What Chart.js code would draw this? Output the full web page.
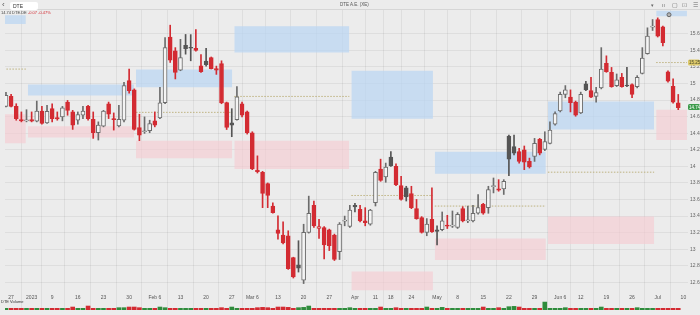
<!DOCTYPE html>
<html><head><meta charset="utf-8">
<script src="https://cdn.jsdelivr.net/npm/chart.js@4.4.1/dist/chart.umd.min.js"></script>
<style>
html,body{margin:0;padding:0;background:#ececec;overflow:hidden;}
#wrap{position:relative;width:700px;height:315px;font-family:"Liberation Sans",Arial,sans-serif;}
canvas{position:absolute;left:0;top:0;}
.t{position:absolute;white-space:nowrap;line-height:1;}
</style></head>
<body><div id="wrap">
<canvas id="c" width="700" height="315"></canvas>
<div class="t" style="left:2px;top:1px;font-size:8px;color:#555;">‹</div>
<div class="t" style="left:10px;top:2px;width:28px;height:8px;background:#fff;border-radius:2px;font-size:5px;color:#333;padding:1.5px 0 0 3px;box-sizing:border-box;">DTE</div>
<div class="t" style="left:1px;top:11px;font-size:4px;color:#444;">14.74 DTE.DE <span style="color:#d32b32">-0.07 -0.47%</span></div>
<div class="t" style="left:340px;top:3px;font-size:4.5px;color:#555;">DTE A.E. (XE)</div>
<div class="t" style="left:651px;top:3px;font-size:5px;color:#666;">▾</div>
<div class="t" style="left:662px;top:3px;font-size:5px;color:#666;">ıı</div>
<div class="t" style="left:672px;top:2px;font-size:6px;color:#666;">▢</div>
<div class="t" style="left:682px;top:2px;font-size:6px;color:#888;">⊡</div>
<div class="t" style="left:693px;top:2px;font-size:6px;color:#666;">☰</div>
<div class="t" style="left:1px;top:300px;font-size:4px;color:#333;">DTE Volume</div>
</div>
<script>
const opens=[14.724,14.844,14.724,14.565,14.55,14.565,14.545,14.668,14.525,14.696,14.589,14.597,14.776,14.657,14.557,14.617,14.724,14.569,14.406,14.485,14.756,14.577,14.489,14.557,15.035,14.923,14.469,14.418,14.43,14.549,14.585,14.768,15.561,15.393,
15.162,15.46,15.43,15.425,15.214,15.27,15.314,15.18,15.24,14.77,14.525,14.565,14.756,14.657,14.406,13.955,13.928,13.792,13.522,13.235,13.171,13.163,12.90,12.813,12.626,13.203,13.53,13.25,13.263,13.235,13.171,12.972,13.34,13.275,
13.53,13.482,13.343,13.303,13.562,13.968,13.872,14.111,14.0,13.768,13.74,13.673,13.49,13.382,13.203,13.362,13.235,13.235,13.29,13.28,13.263,13.49,13.343,13.343,13.434,13.541,13.502,13.755,13.73,13.729,14.366,14.238,14.179,
14.2,14.06,14.119,14.326,14.206,14.278,14.509,14.668,14.868,14.836,14.776,14.645,14.995,14.915,14.844,14.947,15.242,15.134,14.975,15.075,14.975,14.987,14.963,15.122,15.361,15.68,15.772,15.684,15.142,14.967,14.768];
const highs=[14.895,14.868,14.756,14.657,14.684,14.657,14.788,14.724,14.736,14.756,14.657,14.724,14.796,14.676,14.657,14.724,14.736,14.657,14.537,14.676,14.776,14.645,14.736,15.015,15.174,14.935,14.629,14.597,14.557,14.657,14.955,15.553,15.704,15.433,
15.533,15.592,15.59,15.65,15.35,15.425,15.32,15.21,15.274,14.776,14.696,14.963,14.776,14.668,14.418,14.127,13.94,13.80,13.56,13.402,13.33,13.223,12.904,13.103,13.302,13.641,13.581,13.362,13.275,13.243,13.183,13.322,13.40,13.53,
13.554,13.53,13.502,13.482,13.94,14.087,14.04,14.179,14.031,13.88,13.76,13.76,13.601,13.394,13.37,13.741,13.283,13.45,13.41,13.462,13.442,13.514,13.522,13.53,13.661,13.554,13.76,13.86,13.84,13.84,14.378,14.378,14.218,
14.246,14.1,14.338,14.338,14.418,14.537,14.657,14.896,14.975,14.923,14.788,14.896,15.027,15.075,14.955,15.433,15.334,15.194,15.115,15.122,15.194,14.995,15.095,15.433,15.672,15.772,15.792,15.692,15.154,15.055,14.868];
const lows=[14.716,14.716,14.557,14.537,14.537,14.537,14.537,14.509,14.517,14.537,14.557,14.549,14.617,14.446,14.509,14.577,14.557,14.338,14.318,14.477,14.577,14.438,14.477,14.537,14.884,14.438,14.31,14.398,14.406,14.477,14.577,14.756,15.254,15.055,
15.154,15.354,15.274,15.39,15.135,15.21,15.175,15.11,14.756,14.445,14.358,14.557,14.597,14.39,13.96,13.92,13.502,13.502,13.434,13.123,13.064,12.757,12.653,12.725,12.586,13.195,13.263,13.131,12.884,12.984,12.864,12.876,13.283,13.263,
13.45,13.33,13.283,13.29,13.522,13.82,13.808,14.0,13.768,13.593,13.582,13.49,13.362,13.195,13.163,13.203,13.052,13.223,13.25,13.263,13.251,13.33,13.322,13.33,13.422,13.422,13.434,13.68,13.70,13.661,13.888,14.139,14.04,
13.96,13.98,14.06,14.139,14.19,14.27,14.497,14.657,14.828,14.657,14.605,14.637,14.915,14.828,14.776,14.935,15.135,14.955,14.963,14.955,14.963,14.828,14.947,15.115,15.354,15.64,15.561,15.453,15.015,14.764,14.684];
const closes=[14.856,14.724,14.577,14.549,14.553,14.545,14.668,14.517,14.664,14.577,14.573,14.708,14.676,14.497,14.625,14.668,14.577,14.406,14.497,14.668,14.629,14.565,14.569,14.975,14.915,14.446,14.378,14.42,14.517,14.497,14.768,15.433,15.282,15.134,
15.314,15.42,15.425,15.40,15.143,15.226,15.18,15.16,14.765,14.47,14.497,14.84,14.617,14.406,13.968,13.935,13.673,13.649,13.442,13.19,13.075,12.765,12.665,12.773,13.203,13.434,13.283,13.275,13.052,13.044,12.876,13.303,13.345,13.474,
13.51,13.343,13.322,13.474,13.928,13.832,13.992,14.007,13.78,13.601,13.633,13.502,13.37,13.203,13.303,13.211,13.215,13.342,13.28,13.285,13.422,13.343,13.345,13.434,13.502,13.434,13.721,13.76,13.713,13.82,14.087,14.159,14.06,
14.05,13.992,14.278,14.159,14.298,14.438,14.637,14.868,14.923,14.768,14.617,14.868,14.923,14.836,14.891,15.174,15.142,14.963,15.043,14.963,14.97,14.868,15.075,15.306,15.572,15.69,15.572,15.493,15.027,14.776,14.708];
const volumes=[5,5,5,5,5,5,5,5,5,5, 5,5,5,9,5,5,12,5,5,5, 5,5,7,7,9,9,7,5,5,5, 9,7,5,5,5,5,5,5,5,5,
5,5,7,5,9,5,5,5,5,7, 8,7,5,9,9,8,5,7,8,12, 5,5,5,5,5,5,5,7,5,5, 5,5,5,9,5,5,7,5,5,5,
5,5,9,5,5,8,5,5,5,5, 5,5,5,9,5,5,7,5,10,11, 9,5,5,5,5,24,5,5,5,7, 5,5,5,5,5,5,9,5,5,5,
5,5,5,7,5,5,5,5,5,5, 5,5];
const tickIdx=[1,5,9,14,19,24,29,34,39,44,48,53,58,63,68,72,75,79,84,88,93,98,103,108,112,117,122,127,132];
const tickLbl=["27","2023","9","16","23","30","Feb 6","13","20","27","Mar 6","13","20","27","Apr","11","18","24","May","8","15","22","29","Jun 6","12","19","26","Jul","10"];
const yTicks=[15.6,15.4,15.2,15.0,14.8,14.6,14.4,14.2,14.0,13.8,13.6,13.4,13.2,13.0,12.8,12.6];
const periodStart=[-0.5,4.26,25.34,44.49,67.3,83.56,105.6,126.7];
const periodEnd=[3.87,24.95,44.1,66.9,83.2,105.2,126.3,132.7];
const blueTop=[15.823,14.987,15.17,15.692,15.154,14.178,14.784,15.878];
const blueBottom=[15.719,14.856,14.955,15.373,14.576,13.912,14.445,15.811];
const pinkTop=[14.629,14.485,14.31,14.31,12.733,13.13,13.394,14.684];
const pinkBottom=[14.278,14.35,14.098,13.967,12.506,12.87,13.064,14.318];
const pivotLevel=[15.174,null,14.652,14.844,13.649,13.521,13.93,15.253];
const marker={x:129.2,y:15.83};
const badges=[{v:15.253,text:"15.25",bg:"#dcc86a",fg:"#4a4a2a"},{v:14.716,text:"14.74",bg:"#3d9b4c",fg:"#ffffff"}];

const RED='#d32b32', DARK='#555555', GREY='#6c6c6c', HOLLOW='#f4f4f4', GREEN='#2f8c3c';
const bodyFill=[],bodyBorder=[],volColor=[];
closes.forEach((c,i)=>{
  const prev=i>0?closes[i-1]:opens[i];
  const up=c>=opens[i], refUp=c>=prev;
  bodyFill.push(up?HOLLOW:(refUp?DARK:RED));
  bodyBorder.push(refUp?(up?GREY:DARK):RED);
  volColor.push(refUp?GREEN:RED);
});

const datasets=[];
periodStart.forEach((s,k)=>{
  datasets.push({type:'line',data:[{x:s,y:blueTop[k]},{x:periodEnd[k],y:blueTop[k]}],fill:{value:blueBottom[k]},
    backgroundColor:'rgba(186,213,243,0.72)',borderWidth:0,pointRadius:0,order:20,yAxisID:'y'});
  datasets.push({type:'line',data:[{x:s,y:pinkTop[k]},{x:periodEnd[k],y:pinkTop[k]}],fill:{value:pinkBottom[k]},
    backgroundColor:'rgba(246,202,208,0.62)',borderWidth:0,pointRadius:0,order:20,yAxisID:'y'});
  if(pivotLevel[k]!==null){
    datasets.push({type:'line',data:[{x:s,y:pivotLevel[k]},{x:periodEnd[k],y:pivotLevel[k]}],fill:false,
      borderColor:'#b3a466',borderWidth:0.8,borderDash:[1.5,1.5],pointRadius:0,order:15,yAxisID:'y'});
  }
});
datasets.push({type:'bar',data:volumes.map((v,i)=>({x:i,y:v})),backgroundColor:volColor,barThickness:4,yAxisID:'y2',order:12,grouped:false});
datasets.push({type:'bar',data:lows.map((l,i)=>({x:i,y:[l,highs[i]]})),backgroundColor:bodyBorder,barThickness:1,yAxisID:'y',order:8,grouped:false,borderWidth:0});
datasets.push({type:'bar',data:opens.map((o,i)=>({x:i,y:[o,closes[i]]})),backgroundColor:bodyFill,borderColor:bodyBorder,borderWidth:1,borderSkipped:false,barThickness:4,minBarLength:1,yAxisID:'y',order:5,grouped:false});
datasets.push({type:'line',data:[marker],showLine:false,pointRadius:2,pointBorderWidth:1,pointBorderColor:'#666',pointBackgroundColor:'#b5b5b5',order:1,yAxisID:'y'});

const badgePlugin={id:'badges',afterDraw(chart){
  const ctx=chart.ctx, ys=chart.scales.y;
  ctx.save();
  ctx.font='4.5px "Liberation Sans", Arial, sans-serif';
  ctx.textBaseline='middle';
  badges.forEach(b=>{
    const py=ys.getPixelForValue(b.v);
    ctx.fillStyle=b.bg;
    ctx.beginPath(); ctx.roundRect(688,py-3,12,6,1.5); ctx.fill();
    ctx.fillStyle=b.fg; ctx.fillText(b.text,689,py+0.3);
  });
  ctx.strokeStyle='#d6d6d6'; ctx.lineWidth=1;
  ctx.beginPath(); ctx.moveTo(0,chart.chartArea.top-0.5); ctx.lineTo(700,chart.chartArea.top-0.5); ctx.stroke();
  ctx.restore();
}};

Chart.defaults.font.family='"Liberation Sans", Arial, sans-serif';
new Chart(document.getElementById('c'),{
  type:'bar',
  data:{datasets},
  options:{
    responsive:false,animation:false,
    layout:{padding:{top:10,bottom:2,left:0,right:0}},
    plugins:{legend:{display:false},tooltip:{enabled:false}},
    scales:{
      x:{type:'linear',min:-0.19,max:132.9,offset:false,position:{y:12.47},
        afterBuildTicks:s=>{s.ticks=tickIdx.map(v=>({value:v}));},
        ticks:{autoSkip:false,maxRotation:0,padding:1,color:'#555',font:{size:5},callback:(v,i)=>tickLbl[i]},
        grid:{color:'rgba(0,0,0,0.06)',drawTicks:false},border:{display:false}},
      y:{position:'right',min:12.267,max:15.887,
        afterBuildTicks:s=>{s.ticks=yTicks.map(v=>({value:v}));},
        afterFit:s=>{s.width=12;},
        ticks:{padding:2,color:'#666',font:{size:5},callback:v=>String(+v.toFixed(1))},
        grid:{color:'rgba(0,0,0,0.06)',drawTicks:false},border:{display:false}},
      y2:{display:false,min:0,max:909}
    }
  },
  plugins:[badgePlugin]
});
</script>
</body></html>
